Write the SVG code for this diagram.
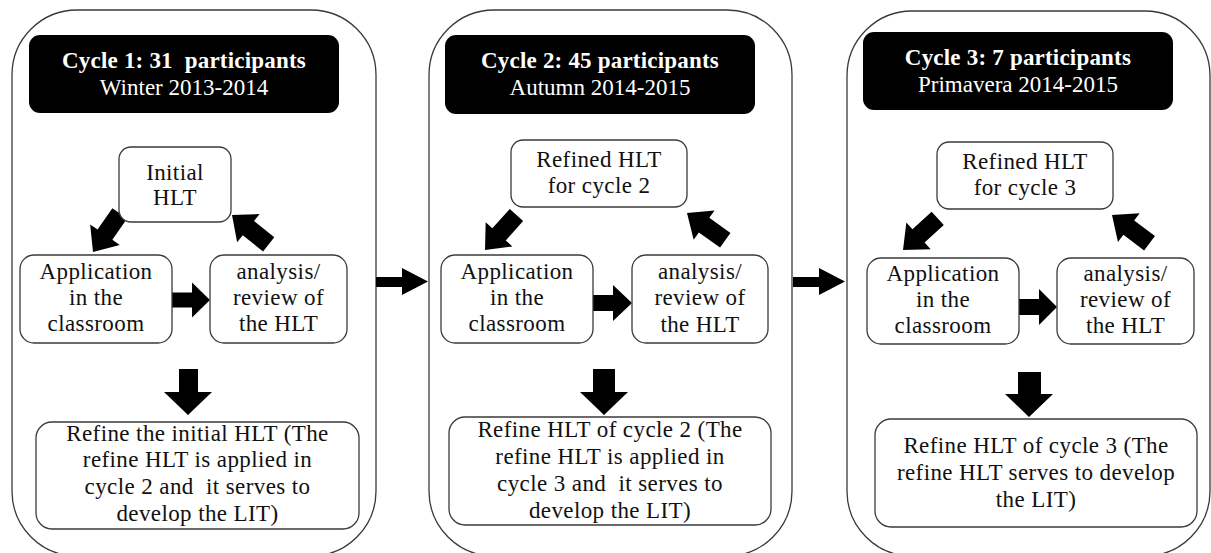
<svg xmlns="http://www.w3.org/2000/svg" width="1211" height="553" viewBox="0 0 1211 553">
<style>
.panel{fill:#fff;stroke:#3a3a3a;stroke-width:1.3}
.hdr{fill:#000}
.box{fill:#fff;stroke:#3a3a3a;stroke-width:1.3}
.ht{font-family:"Liberation Serif",serif;font-size:23px;fill:#fff;text-anchor:middle}
.hb{font-weight:bold;letter-spacing:0.2px}
.t{font-family:"Liberation Serif",serif;font-size:23px;fill:#111;text-anchor:middle;letter-spacing:0.4px}
.arr{fill:#000}
</style>
<defs>
<path id="diag" d="M0,0 L-21,-18 L-21,-9 L-47,-9 L-47,9 L-21,9 L-21,18 Z"/>
</defs>
<g id="panel1">
<rect class="panel" x="12" y="10" width="364" height="546" rx="65"/>
</g>
<g id="panel2">
<rect class="panel" x="429" y="10" width="363" height="546" rx="65"/>
</g>
<g id="panel3">
<rect class="panel" x="847" y="11" width="363" height="545" rx="65"/>
</g>
<g id="connectors">
<path class="arr" d="M376,277 L402,277 L402,268 L428,281.5 L402,295 L402,287 L376,287 Z"/>
<path class="arr" d="M793,277 L819,277 L819,268 L845,281.5 L819,295 L819,287 L793,287 Z"/>
<path class="arr" d="M172,292.5 L192,292.5 L192,282.5 L210,300 L192,317.5 L192,307.5 L172,307.5 Z"/>
<path class="arr" d="M593,295 L613,295 L613,285 L632,303 L613,321 L613,311 L593,311 Z"/>
<path class="arr" d="M1019,299 L1039,299 L1039,289 L1057,307 L1039,325 L1039,315 L1019,315 Z"/>
<path class="arr" d="M179,369 L198,369 L198,392 L212,392 L188,415 L164,392 L179,392 Z"/>
<path class="arr" d="M593,369 L615,369 L615,392 L628,392 L604,415 L580,392 L593,392 Z"/>
<path class="arr" d="M1018,372 L1041,372 L1041,394 L1053,394 L1029,417 L1005,394 L1018,394 Z"/>
<use href="#diag" class="arr" transform="translate(93,252) rotate(124.7)"/>
<use href="#diag" class="arr" transform="translate(232,215) rotate(-141.3)"/>
<use href="#diag" class="arr" transform="translate(485,250) rotate(132)"/>
<use href="#diag" class="arr" transform="translate(687,213) rotate(-144.5)"/>
<use href="#diag" class="arr" transform="translate(903,250) rotate(137.6)"/>
<use href="#diag" class="arr" transform="translate(1112,215) rotate(-143)"/>
</g>
<g id="header1">
<rect class="hdr" x="29" y="35" width="310" height="78" rx="11"/>
<text class="ht hb" x="184" y="68" xml:space="preserve">Cycle 1: 31  participants</text>
<text class="ht" x="184" y="95">Winter 2013-2014</text>
</g>
<g id="initial-hlt">
<rect class="box" x="119" y="147" width="112" height="75" rx="12"/>
<text class="t" x="175" y="180">Initial</text>
<text class="t" x="175" y="205">HLT</text>
</g>
<g id="application1">
<rect class="box" x="20" y="255" width="152" height="88" rx="14"/>
<text class="t" x="96" y="279">Application</text>
<text class="t" x="96" y="305">in the</text>
<text class="t" x="96" y="331">classroom</text>
</g>
<g id="analysis1">
<rect class="box" x="210" y="255" width="137" height="88" rx="14"/>
<text class="t" x="278.5" y="279">analysis/</text>
<text class="t" x="278.5" y="305">review of</text>
<text class="t" x="278.5" y="331">the HLT</text>
</g>
<g id="refine1">
<rect class="box" x="36" y="422" width="323" height="107" rx="16"/>
<text class="t" x="197.5" y="441">Refine the initial HLT (The</text>
<text class="t" x="197.5" y="467">refine HLT is applied in</text>
<text class="t" x="197.5" y="494" xml:space="preserve">cycle 2 and  it serves to</text>
<text class="t" x="197.5" y="521">develop the LIT)</text>
</g>
<g id="header2">
<rect class="hdr" x="445" y="35" width="310" height="79" rx="11"/>
<text class="ht hb" x="600" y="68">Cycle 2: 45 participants</text>
<text class="ht" x="600" y="95">Autumn 2014-2015</text>
</g>
<g id="refined-hlt2">
<rect class="box" x="511" y="140" width="176" height="67" rx="12"/>
<text class="t" x="599" y="167">Refined HLT</text>
<text class="t" x="599" y="193">for cycle 2</text>
</g>
<g id="application2">
<rect class="box" x="441" y="255" width="152" height="88" rx="14"/>
<text class="t" x="517" y="279">Application</text>
<text class="t" x="517" y="305">in the</text>
<text class="t" x="517" y="331">classroom</text>
</g>
<g id="analysis2">
<rect class="box" x="632" y="255" width="136" height="88" rx="14"/>
<text class="t" x="700" y="279">analysis/</text>
<text class="t" x="700" y="305">review of</text>
<text class="t" x="700" y="332">the HLT</text>
</g>
<g id="refine2">
<rect class="box" x="449" y="417" width="322" height="108" rx="16"/>
<text class="t" x="610" y="437">Refine HLT of cycle 2 (The</text>
<text class="t" x="610" y="464">refine HLT is applied in</text>
<text class="t" x="610" y="491" xml:space="preserve">cycle 3 and  it serves to</text>
<text class="t" x="610" y="518">develop the LIT)</text>
</g>
<g id="header3">
<rect class="hdr" x="863" y="32" width="310" height="78" rx="11"/>
<text class="ht hb" x="1018" y="65">Cycle 3: 7 participants</text>
<text class="ht" x="1018" y="92">Primavera 2014-2015</text>
</g>
<g id="refined-hlt3">
<rect class="box" x="937" y="142" width="176" height="67" rx="12"/>
<text class="t" x="1025" y="169">Refined HLT</text>
<text class="t" x="1025" y="195">for cycle 3</text>
</g>
<g id="application3">
<rect class="box" x="867" y="258" width="152" height="86" rx="14"/>
<text class="t" x="943" y="281">Application</text>
<text class="t" x="943" y="307">in the</text>
<text class="t" x="943" y="333">classroom</text>
</g>
<g id="analysis3">
<rect class="box" x="1057" y="258" width="137" height="86" rx="14"/>
<text class="t" x="1125.5" y="281">analysis/</text>
<text class="t" x="1125.5" y="307">review of</text>
<text class="t" x="1125.5" y="333">the HLT</text>
</g>
<g id="refine3">
<rect class="box" x="875" y="419" width="322" height="108" rx="16"/>
<text class="t" x="1036" y="453">Refine HLT of cycle 3 (The</text>
<text class="t" x="1036" y="480">refine HLT serves to develop</text>
<text class="t" x="1036" y="507">the LIT)</text>
</g>
</svg>
